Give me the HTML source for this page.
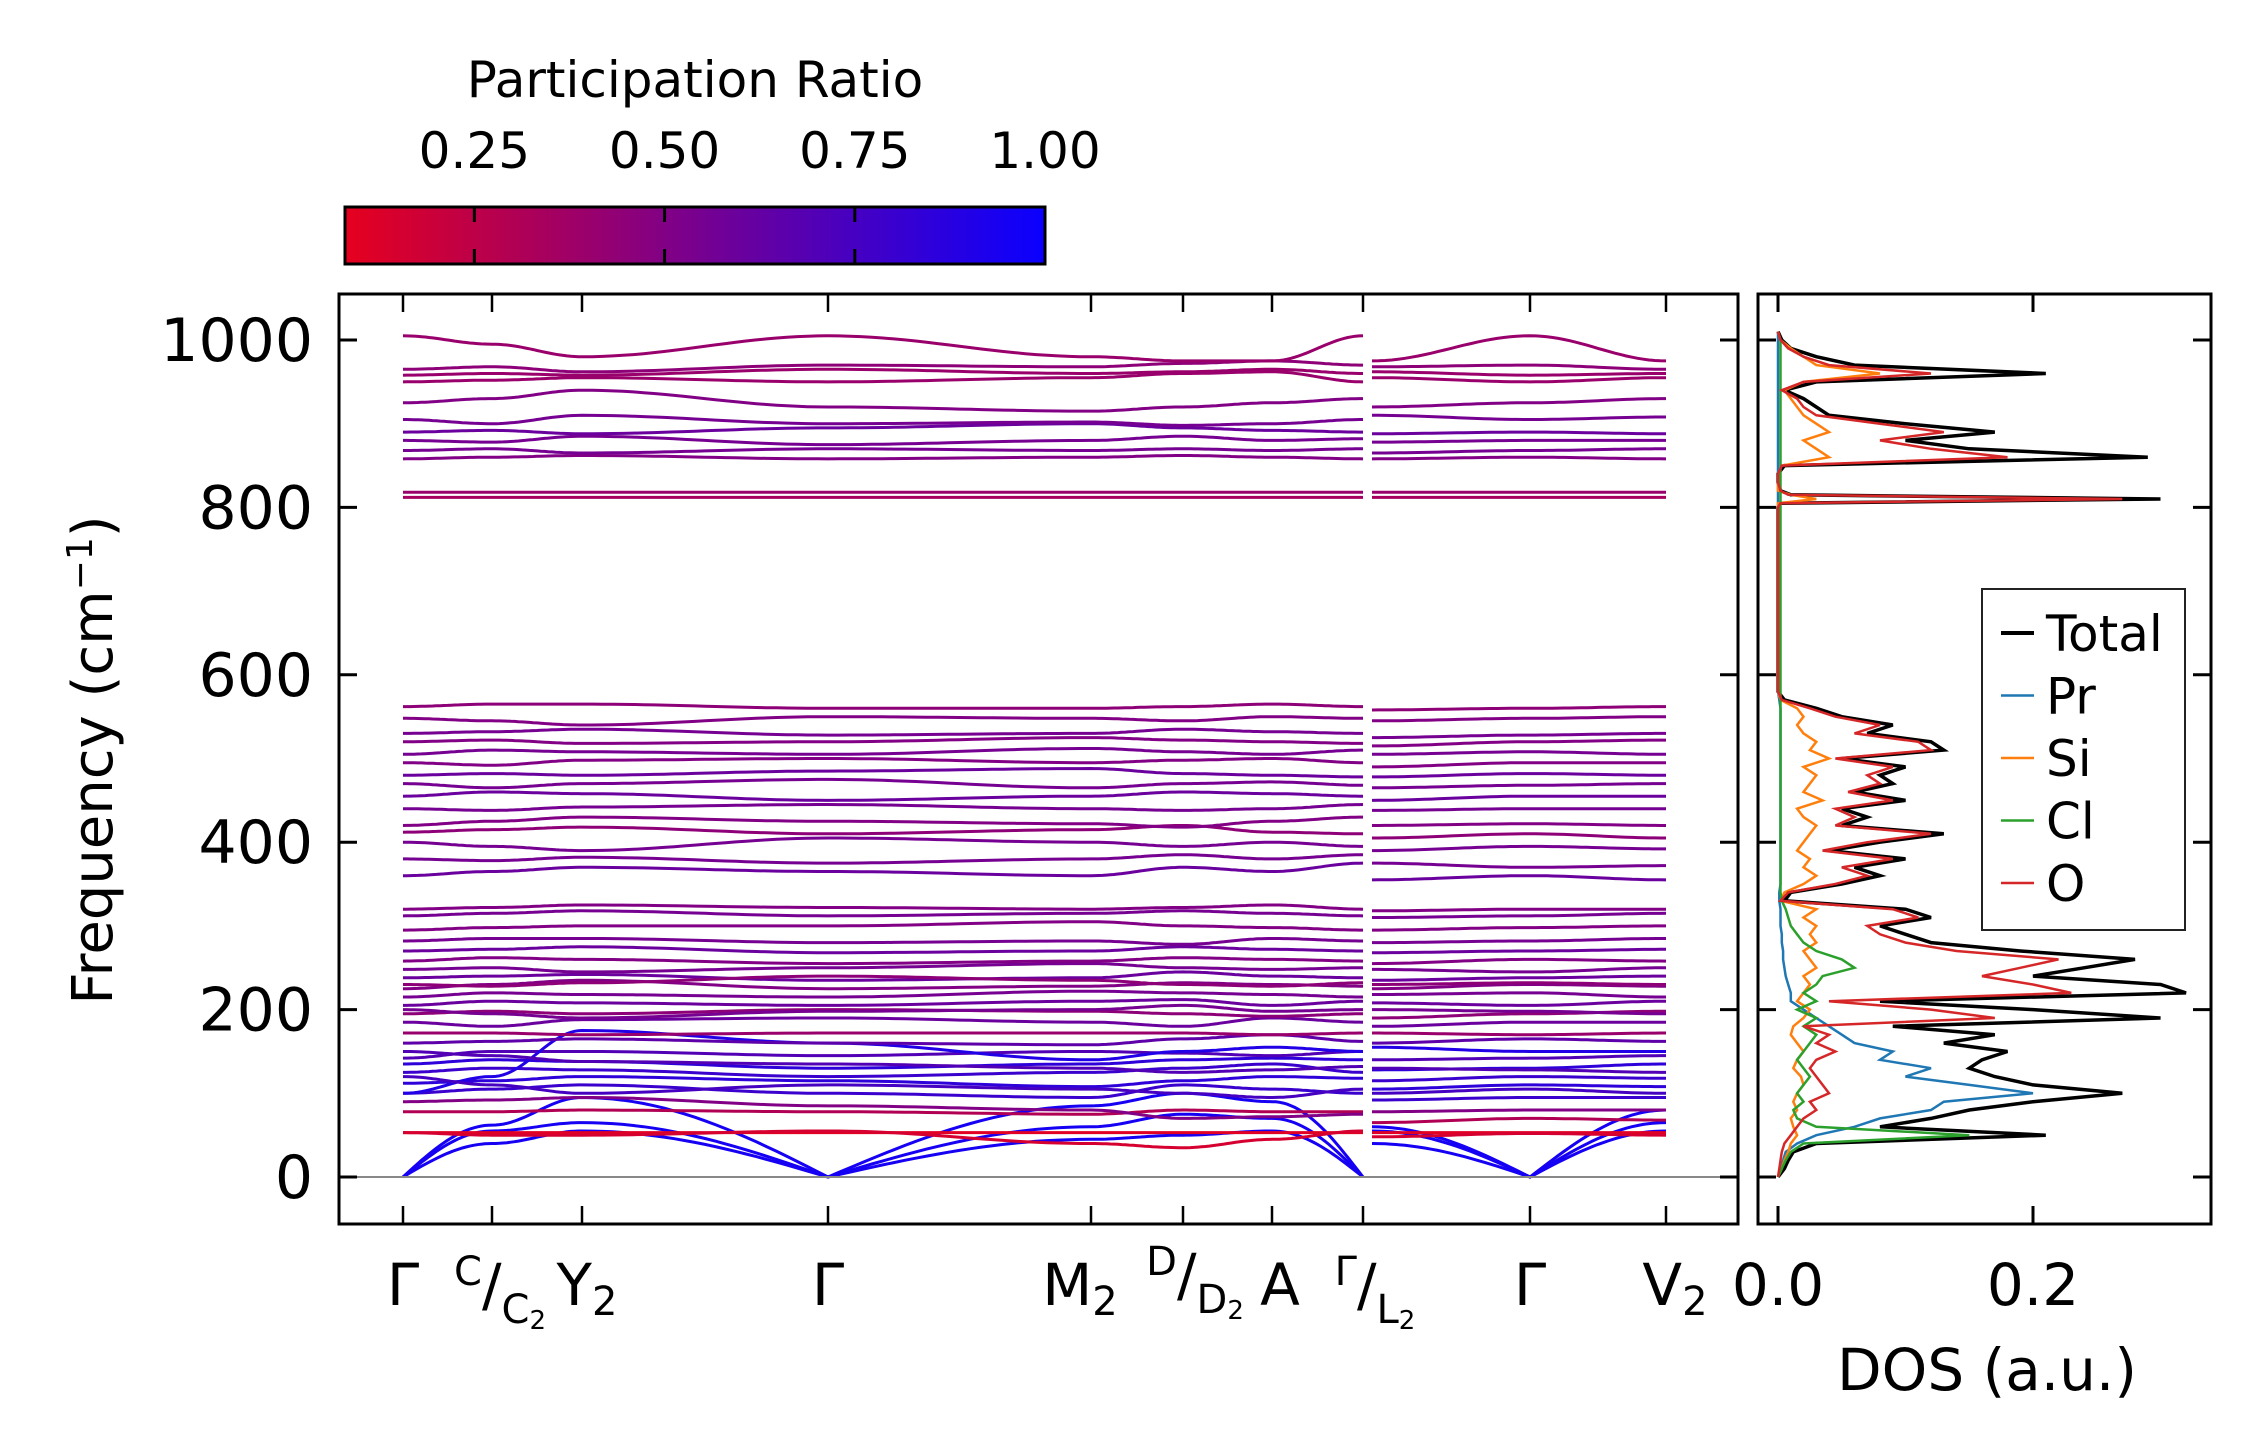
<!DOCTYPE html>
<html><head><meta charset="utf-8"><style>
html,body{margin:0;padding:0;background:#fff}
svg{display:block;font-family:"DejaVu Sans","Liberation Sans",sans-serif}
</style></head><body>
<svg id="chart" width="2259" height="1455" viewBox="0 0 2259 1455" xmlns="http://www.w3.org/2000/svg">
<defs>
<linearGradient id="cg" x1="0" x2="1" y1="0" y2="0">
<stop offset="0" stop-color="#e6001e"/><stop offset="1" stop-color="#0a00ff"/>
</linearGradient>
<clipPath id="mainClip"><rect x="339" y="294" width="1399" height="930"/></clipPath>
<clipPath id="dosClip"><rect x="1758" y="294" width="453" height="930"/></clipPath>
</defs>
<g>
<text x="695" y="97" font-size="50" text-anchor="middle">Participation Ratio</text>
<rect x="345" y="207" width="700" height="57" fill="url(#cg)" stroke="#000" stroke-width="3"/>
<g id="cbticks"></g>
</g>
<g id="bands" clip-path="url(#mainClip)"></g>
<g id="mainAxes"></g>
<g id="dos" clip-path="url(#dosClip)"></g>
<g id="dosAxes"></g>
<text transform="translate(112,760) rotate(-90)" font-size="56" text-anchor="middle">Frequency (cm<tspan baseline-shift="super" font-size="36">−1</tspan>)</text>
<text x="1987" y="1390" font-size="58" text-anchor="middle">DOS (a.u.)</text>
<g>
<rect x="1982" y="589" width="203" height="341" fill="#fff" stroke="#222" stroke-width="2"/>
<g id="legendItems"></g>
</g>
</svg>
<script>
const NS="http://www.w3.org/2000/svg";
// ---- data ----
const kLabelsPath1=["Γ","C/C2","Y2","Γ","M2","D/D2","A","Γ/L2"];
const kLabelsPath2=["Γ/L2","Γ","V2"];
const yTicks=[0,200,400,600,800,1000];
const cbTicks=[0.25,0.5,0.75,1.0];
const dosTicks=[0.0,0.2];
const bandPR=[0.95,0.95,0.95,0.1,0.15,0.3,0.5,0.8,0.85,0.8,0.85,0.7,0.9,0.65,0.4,0.6,0.45,0.6,0.55,0.5,0.6,0.55,0.5,0.6,0.55,0.5,0.55,0.5,0.45,0.55,0.7,0.75,
0.6,0.55,0.55,0.45,0.5,0.55,0.6,0.55,0.6,0.5,0.55,0.5,0.55,0.5,0.45,
0.35,0.4,0.5,0.55,0.55,0.6,0.55,0.5,0.4,0.4,0.45,0.4];
const bandFreq=[
[0,40,55,0,45,50,55,0,40,0,55],
[0,55,65,0,60,75,70,0,55,0,65],
[0,62,95,0,85,100,90,0,60,0,80],
[53,53,53,53,53,53,53,53,53,53,53],
[53,50,50,55,40,35,45,55,48,52,50],
[78,78,80,78,75,80,78,78,65,70,68],
[90,92,95,85,80,70,72,75,78,80,80],
[100,105,110,100,95,110,105,100,92,95,95],
[112,115,120,115,108,115,120,118,105,110,108],
[125,130,128,120,125,130,135,125,115,120,118],
[135,140,138,130,135,140,142,140,128,130,135],
[142,150,150,145,150,148,145,150,140,142,145],
[100,120,175,160,140,150,155,150,155,150,150],
[160,162,165,160,158,165,170,162,160,165,162],
[172,172,170,172,172,172,170,172,172,170,172],
[185,180,188,190,185,180,190,185,180,185,185],
[195,198,195,200,198,195,192,195,190,195,198],
[205,210,208,205,210,212,205,210,208,205,210],
[215,220,218,215,222,220,218,215,218,220,215],
[225,230,235,225,228,232,230,228,225,230,228],
[238,240,242,235,238,245,240,238,235,238,240],
[248,250,245,250,255,250,248,250,248,245,250],
[258,262,260,255,258,262,260,258,255,260,258],
[270,272,275,268,270,275,272,270,268,270,272],
[282,285,285,280,282,278,285,282,280,282,285],
[295,298,300,300,305,300,298,295,295,298,300],
[312,315,318,312,315,318,315,312,310,312,315],
[320,322,325,322,320,322,325,320,318,320,320],
[230,228,232,240,235,230,228,232,230,232,230],
[200,195,190,198,200,205,198,200,200,198,195],
[150,145,138,135,130,125,128,132,130,128,125],
[120,110,100,110,105,100,95,105,100,105,100],
[360,365,370,365,360,370,365,375,355,360,355],
[380,378,382,375,380,385,380,385,375,370,372],
[400,395,390,405,400,395,400,395,390,395,392],
[412,415,418,410,415,420,412,410,405,410,405],
[420,425,430,425,422,418,425,430,420,422,420],
[440,438,442,445,440,438,440,445,438,440,440],
[455,460,458,450,455,460,458,455,450,455,455],
[470,465,470,475,465,470,472,468,465,468,470],
[480,482,480,485,488,482,480,478,478,482,480],
[495,492,498,500,495,498,500,495,490,495,495],
[505,510,508,505,512,508,505,510,505,508,505],
[520,522,518,520,525,522,520,518,515,520,522],
[530,532,535,528,530,535,532,530,525,528,530],
[548,545,540,550,548,545,550,548,545,548,550],
[562,565,565,560,560,562,565,562,558,560,562],
[812,812,812,812,812,812,812,812,812,812,812],
[818,818,818,818,818,818,818,818,818,818,818],
[858,860,862,858,860,862,860,858,858,860,858],
[868,870,865,870,868,870,868,870,865,868,870],
[880,878,885,875,880,885,880,882,878,880,880],
[890,892,888,895,900,895,892,890,888,890,888],
[905,900,910,900,902,898,900,905,910,905,908],
[925,930,940,920,915,920,925,930,920,925,930],
[950,952,955,950,955,960,962,950,955,950,955],
[958,960,958,965,960,962,965,960,962,958,960],
[965,968,962,970,968,972,975,970,968,970,965],
[1005,995,980,1005,980,975,975,1005,975,1005,975]
];
const dosFreq=[0,10,20,30,40,50,60,70,80,90,100,110,120,130,140,150,160,170,180,190,200,210,220,230,240,250,260,270,280,290,300,310,320,330,340,350,360,370,380,390,400,410,420,430,440,450,460,470,480,490,500,510,520,530,540,550,560,570,580,800,805,810,815,820,830,840,850,860,870,880,890,900,910,920,930,940,950,960,970,980,990,1000,1010];
const dosTotal=[0,0.005,0.008,0.012,0.03,0.21,0.08,0.12,0.15,0.2,0.27,0.2,0.17,0.15,0.16,0.18,0.13,0.17,0.09,0.3,0.2,0.08,0.32,0.3,0.2,0.24,0.28,0.19,0.12,0.1,0.08,0.12,0.1,0.005,0.01,0.05,0.08,0.06,0.1,0.04,0.08,0.13,0.05,0.07,0.05,0.1,0.06,0.09,0.08,0.1,0.05,0.13,0.12,0.07,0.09,0.05,0.03,0.005,0,0,0.002,0.3,0.01,0.002,0,0,0.005,0.29,0.15,0.1,0.17,0.1,0.04,0.03,0.02,0.005,0.03,0.21,0.06,0.03,0.01,0.003,0];
const dosPr=[0,0.002,0.004,0.006,0.015,0.03,0.06,0.08,0.12,0.13,0.2,0.15,0.1,0.12,0.08,0.09,0.06,0.05,0.04,0.03,0.02,0.01,0.01,0.008,0.006,0.005,0.004,0.004,0.003,0.003,0.002,0.002,0.002,0.001,0.001,0.002,0.002,0.002,0.002,0.002,0.002,0.002,0.002,0.002,0.002,0.002,0.002,0.002,0.002,0.002,0.002,0.002,0.002,0.002,0.002,0.002,0.002,0.001,0,0,0,0,0,0,0,0,0,0,0,0,0,0,0,0,0,0,0,0,0,0,0,0,0];
const dosSi=[0,0.003,0.005,0.008,0.01,0.015,0.012,0.01,0.015,0.012,0.015,0.02,0.018,0.012,0.015,0.02,0.015,0.01,0.012,0.02,0.025,0.015,0.02,0.025,0.02,0.03,0.025,0.02,0.03,0.025,0.03,0.02,0.03,0.002,0.005,0.02,0.03,0.02,0.025,0.015,0.02,0.025,0.03,0.02,0.015,0.035,0.02,0.025,0.03,0.02,0.04,0.025,0.03,0.02,0.015,0.02,0.015,0.002,0,0,0,0.03,0.01,0,0,0,0.003,0.04,0.03,0.02,0.04,0.03,0.02,0.015,0.01,0.005,0.02,0.08,0.03,0.02,0.01,0.002,0];
const dosCl=[0,0.003,0.006,0.01,0.02,0.15,0.03,0.015,0.012,0.02,0.015,0.02,0.025,0.02,0.015,0.02,0.025,0.03,0.02,0.03,0.015,0.03,0.02,0.03,0.035,0.06,0.05,0.03,0.02,0.015,0.01,0.008,0.006,0.003,0.002,0.002,0.002,0.002,0.002,0.002,0.002,0.002,0.002,0.002,0.002,0.002,0.002,0.002,0.002,0.002,0.002,0.002,0.002,0.002,0.002,0.002,0.002,0.002,0.002,0.002,0.002,0.002,0.002,0.002,0.002,0.002,0.002,0.002,0.002,0.002,0.002,0.002,0.002,0.002,0.002,0.002,0.002,0.002,0.002,0.002,0.002,0.002,0];
const dosO=[0,0.001,0.002,0.003,0.005,0.01,0.015,0.02,0.03,0.025,0.04,0.035,0.03,0.025,0.03,0.045,0.03,0.04,0.02,0.17,0.12,0.04,0.23,0.2,0.16,0.19,0.22,0.14,0.1,0.08,0.07,0.11,0.09,0.002,0.008,0.045,0.07,0.05,0.09,0.035,0.07,0.12,0.045,0.06,0.045,0.09,0.055,0.08,0.07,0.09,0.045,0.12,0.11,0.06,0.08,0.045,0.025,0.003,0,0,0.002,0.27,0.008,0.002,0,0,0.003,0.18,0.12,0.08,0.13,0.08,0.03,0.02,0.015,0.003,0.02,0.12,0.04,0.02,0.008,0.002,0];
const dosSeriesNames=["Total","Pr","Si","Cl","O"];
// ---- layout ----
const path1X=[403,492,582,828,1091,1183,1272,1363];
const path2X=[1363,1530,1666];
const Y=f=>1177-0.837*f;
const DX=d=>1778+1275*d;
const CB=p=>345+(p-0.08)/(1-0.08)*700;
function prColor(p){const t=Math.max(0,Math.min(1,(p-0.08)/0.92));
 return `rgb(${Math.round(230*(1-t)+10*t)},0,${Math.round(30*(1-t)+255*t)})`;}
function el(tag,attrs,parent){const e=document.createElementNS(NS,tag);for(const k in attrs)e.setAttribute(k,attrs[k]);parent.appendChild(e);return e;}
const bandsG=document.getElementById('bands');
function segPath(xs,vals,startX){let d="";
 for(let i=0;i<xs.length-1;i++){const x0=(i===0&&startX)?startX:xs[i],x1=xs[i+1],v0=vals[i],v1=vals[i+1];
  const n=24;for(let j=0;j<=n;j++){const t=j/n;const s=(1-Math.cos(Math.PI*t))/2;
   let v=v0+(v1-v0)*s;
   if(v0===0&&j>0){v=v1*Math.sin(Math.PI/2*t);}
   if(v1===0&&j<n){v=v0*Math.sin(Math.PI/2*(1-t));}
   d+=(i===0&&j===0?"M":"L")+(x0+(x1-x0)*t).toFixed(1)+","+Y(v).toFixed(1);}}
 return d;}
bandFreq.forEach((b,i)=>{
 const c=prColor(bandPR[i]);
 const p1=el('path',{d:segPath(path1X,b.slice(0,8)),fill:'none',stroke:c,'stroke-width':3},bandsG);
 
 
 const p2=el('path',{d:segPath(path2X,b.slice(8,11),1372),fill:'none',stroke:c,'stroke-width':3},bandsG);
 
 
});
const ax=document.getElementById('mainAxes');
el('line',{x1:339,x2:1738,y1:Y(0),y2:Y(0),stroke:'#888','stroke-width':2},ax);
const fr=el('rect',{x:339,y:294,width:1399,height:930,fill:'none',stroke:'#000','stroke-width':3},ax);


yTicks.forEach(v=>{const y=Y(v);
 el('line',{x1:339,x2:357,y1:y,y2:y,stroke:'#000','stroke-width':3},ax);
 el('line',{x1:1720,x2:1738,y1:y,y2:y,stroke:'#000','stroke-width':3},ax);
 const t=el('text',{x:313,y:y+21,'font-size':60,'text-anchor':'end'},ax);t.textContent=v;
 
 
});
const allX=path1X.concat(path2X.slice(1));
allX.forEach(x=>{el('line',{x1:x,x2:x,y1:294,y2:312,stroke:'#000','stroke-width':2.5},ax);
 el('line',{x1:x,x2:x,y1:1206,y2:1224,stroke:'#000','stroke-width':2.5},ax);});
function kLabel(x,parts){const t=el('text',{x:x,y:1305,'font-size':58,'text-anchor':'middle'},ax);
 
 
 t.innerHTML=parts;}
kLabel(403,'Γ');
kLabel(500,'<tspan font-size="40" dy="-20">C</tspan><tspan dy="20">/</tspan><tspan font-size="40" dy="18">C</tspan><tspan font-size="26" dy="6">2</tspan>');
kLabel(587,'Y<tspan font-size="40" dy="10">2</tspan>');
kLabel(828,'Γ');
kLabel(1080,'M<tspan font-size="40" dy="10">2</tspan>');
kLabel(1195,'<tspan font-size="40" dy="-30">D</tspan><tspan dy="20">/</tspan><tspan font-size="40" dy="18">D</tspan><tspan font-size="26" dy="6">2</tspan>');
kLabel(1280,'A');
kLabel(1375,'<tspan font-size="40" dy="-20">Γ</tspan><tspan dy="20">/</tspan><tspan font-size="40" dy="18">L</tspan><tspan font-size="26" dy="6">2</tspan>');
kLabel(1530,'Γ');
kLabel(1675,'V<tspan font-size="40" dy="10">2</tspan>');
const cbg=document.getElementById('cbticks');
cbTicks.forEach(v=>{const x=CB(v);
 if(v<1){el('line',{x1:x,x2:x,y1:207,y2:222,stroke:'#000','stroke-width':3},cbg);
 el('line',{x1:x,x2:x,y1:249,y2:264,stroke:'#000','stroke-width':3},cbg);}
 const t=el('text',{x:x,y:168,'font-size':50,'text-anchor':'middle'},cbg);t.textContent=v.toFixed(2);
 
 
});
const dosG=document.getElementById('dos');
const dosColors=["#000","#1f77b4","#ff7f0e","#2ca02c","#d62728"];
const dosAll=[dosTotal,dosPr,dosSi,dosCl,dosO];
dosAll.forEach((s,k)=>{let d="";s.forEach((v,i)=>{d+=(i?"L":"M")+DX(v).toFixed(1)+","+Y(dosFreq[i]).toFixed(1);});
 const p=el('path',{d:d,fill:'none',stroke:dosColors[k],'stroke-width':k===0?3.5:2.5},dosG);
 
 
});
const dax=document.getElementById('dosAxes');
const dfr=el('rect',{x:1758,y:294,width:453,height:930,fill:'none',stroke:'#000','stroke-width':3},dax);


yTicks.forEach(v=>{const y=Y(v);
 el('line',{x1:1758,x2:1776,y1:y,y2:y,stroke:'#000','stroke-width':3},dax);
 el('line',{x1:2193,x2:2211,y1:y,y2:y,stroke:'#000','stroke-width':3},dax);});
dosTicks.forEach(v=>{const x=DX(v);
 el('line',{x1:x,x2:x,y1:294,y2:312,stroke:'#000','stroke-width':3},dax);
 el('line',{x1:x,x2:x,y1:1206,y2:1224,stroke:'#000','stroke-width':3},dax);
 const t=el('text',{x:x,y:1305,'font-size':58,'text-anchor':'middle'},dax);t.textContent=v.toFixed(1);
 
 
});
const lg=document.getElementById('legendItems');
dosSeriesNames.forEach((n,i)=>{const y=633+i*62.5;
 el('line',{x1:2001,x2:2034,y1:y,y2:y,stroke:dosColors[i],'stroke-width':i?2.5:4},lg);
 const t=el('text',{x:2046,y:y+18,'font-size':50},lg);t.textContent=n;
 
 
});
</script>
</body></html>
